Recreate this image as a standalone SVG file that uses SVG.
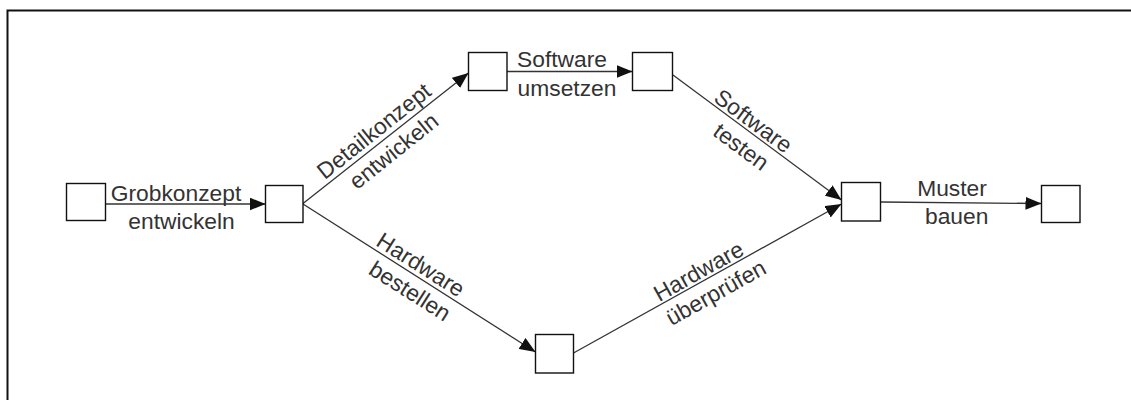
<svg xmlns="http://www.w3.org/2000/svg" width="1131" height="400" viewBox="0 0 1131 400">
<style>
.node{fill:#fff;stroke:#111;stroke-width:1.4}
.edge{fill:none;stroke:#333;stroke-width:1.3;marker-end:url(#ah)}
.lbl{font-family:"Liberation Sans",Arial,sans-serif;font-size:22.8px;fill:#333;text-anchor:middle}
</style>
<defs>
<marker id="ah" markerUnits="userSpaceOnUse" markerWidth="17" markerHeight="13" refX="16" refY="6.5" orient="auto">
<path d="M0,0 L16,6.5 L0,13 z" fill="#111"/>
</marker>
</defs>
<rect width="1131" height="400" fill="#fff"/>
<path d="M7.5,401 V10.5 H1132" fill="none" stroke="#111" stroke-width="2"/>
<g id="connectors">
<line class="edge" x1="105.5" y1="204" x2="265.5" y2="204"/>
<line class="edge" x1="303" y1="203.5" x2="468.5" y2="73"/>
<line class="edge" x1="303" y1="204" x2="535.5" y2="352"/>
<line class="edge" x1="507" y1="71.5" x2="632.5" y2="71.5"/>
<line class="edge" x1="673" y1="75" x2="841.5" y2="200"/>
<line class="edge" x1="573.5" y1="353" x2="841.5" y2="204"/>
<line class="edge" x1="881" y1="202" x2="1041.5" y2="203.5"/>
</g>
<g id="labels">
<text class="lbl" x="176" y="201">Grobkonzept</text>
<text class="lbl" x="181.5" y="229">entwickeln</text>
<g transform="translate(303,204) rotate(-38.6)">
<text class="lbl" x="101" y="-5">Detailkonzept</text>
<text class="lbl" x="104" y="23">entwickeln</text>
</g>
<g transform="translate(303,204) rotate(32.4)">
<text class="lbl" x="132" y="-4">Hardware</text>
<text class="lbl" x="137" y="24">bestellen</text>
</g>
<text class="lbl" x="562" y="66.5">Software</text>
<text class="lbl" x="567" y="95.5">umsetzen</text>
<g transform="translate(673,75) rotate(36.5)">
<text class="lbl" x="92" y="-3">Software</text>
<text class="lbl" x="97.5" y="25">testen</text>
</g>
<g transform="translate(574,353) rotate(-29.1)">
<text class="lbl" x="148.6" y="-3">Hardware</text>
<text class="lbl" x="153.3" y="24">überprüfen</text>
</g>
<text class="lbl" x="952" y="196">Muster</text>
<text class="lbl" x="956.7" y="224">bauen</text>
</g>
<g id="n1"><rect class="node" x="66.5" y="183.5" width="39" height="37"/></g>
<g id="n2"><rect class="node" x="265.5" y="185.5" width="37.5" height="37"/></g>
<g id="n3"><rect class="node" x="468.5" y="52.5" width="38.5" height="38"/></g>
<g id="n4"><rect class="node" x="632.5" y="52.5" width="40" height="38"/></g>
<g id="n5"><rect class="node" x="535.5" y="334.5" width="38" height="38.5"/></g>
<g id="n6"><rect class="node" x="841.5" y="182.5" width="39" height="38.5"/></g>
<g id="n7"><rect class="node" x="1041.5" y="185.5" width="38.5" height="37"/></g>
</svg>
